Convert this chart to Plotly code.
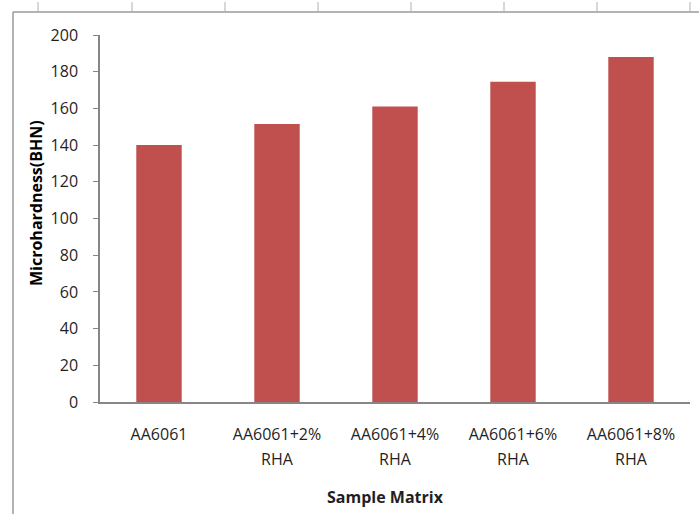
import plotly.graph_objects as go

# Microhardness of AA6061 matrix with rice husk ash (RHA) additions
samples_line1 = ["AA6061", "AA6061+2%", "AA6061+4%", "AA6061+6%", "AA6061+8%"]
samples_line2 = ["", "RHA", "RHA", "RHA", "RHA"]
hardness_bhn = [140, 151.5, 161, 174.5, 188]
y_ticks = [0, 20, 40, 60, 80, 100, 120, 140, 160, 180, 200]

W, H = 699, 514
L, R, T, B = 100, 9, 35, 112
PW, PH = W - L - R, H - T - B

def px_x(px):
    return (px - L) / PW

def px_y(py):
    return (H - B - py) / PH

positions = list(range(len(samples_line1)))
axis_grey = "#868686"
text_col = "#1f1f1f"
font_family = "Open Sans, Liberation Sans, sans-serif"

fig = go.Figure()
fig.add_trace(go.Bar(
    x=positions, y=hardness_bhn,
    marker=dict(color="#C0504D", line=dict(width=0)),
    width=0.385, hoverinfo="x+y",
))
# carrier trace for the second row of category labels
fig.add_trace(go.Scatter(
    x=positions, y=hardness_bhn, xaxis="x2", mode="none",
    hoverinfo="skip", showlegend=False,
))

fig.update_layout(
    width=W, height=H,
    margin=dict(l=L, r=R, t=T, b=B, pad=0),
    paper_bgcolor="white", plot_bgcolor="white",
    showlegend=False,
    font=dict(family=font_family, size=16, color=text_col),
    xaxis=dict(
        range=[-0.5, len(positions) - 0.5],
        tickvals=positions, ticktext=samples_line1,
        showgrid=False, zeroline=False,
        showline=True, linecolor=axis_grey, linewidth=1.5,
        ticks="", ticklabelstandoff=17,
        tickfont=dict(size=16, color=text_col),
        fixedrange=True,
    ),
    xaxis2=dict(
        overlaying="x", anchor="y", side="bottom",
        range=[-0.5, len(positions) - 0.5],
        tickvals=positions, ticktext=samples_line2,
        showgrid=False, zeroline=False, showline=False,
        ticks="", ticklabelstandoff=46,
        tickfont=dict(size=16, color=text_col),
        fixedrange=True,
    ),
    yaxis=dict(
        range=[0, 200], tickvals=y_ticks,
        showgrid=False, zeroline=False,
        showline=True, linecolor=axis_grey, linewidth=1.5,
        ticks="outside", ticklen=5, tickcolor=axis_grey, tickwidth=1.2,
        ticklabelstandoff=12,
        tickfont=dict(size=16, color=text_col),
        fixedrange=True,
    ),
    bargap=0.6,
)

# axis titles
fig.add_annotation(
    text="<b>Microhardness(BHN)</b>", textangle=-90,
    x=px_x(36), y=px_y(203), xref="paper", yref="paper",
    showarrow=False, font=dict(size=16, color="black"),
    xanchor="center", yanchor="middle",
)
fig.add_annotation(
    text="<b>Sample Matrix</b>",
    x=px_x(385), y=px_y(497), xref="paper", yref="paper",
    showarrow=False, font=dict(size=16, color=text_col),
    xanchor="center", yanchor="middle",
)

# chart-area frame and sheet column ticks along the top
frame = "#9a9a9a"
fig.add_shape(type="line", xref="paper", yref="paper",
              x0=px_x(13), x1=px_x(W + 5), y0=px_y(12), y1=px_y(12),
              line=dict(color=frame, width=1.5))
fig.add_shape(type="line", xref="paper", yref="paper",
              x0=px_x(13), x1=px_x(13), y0=px_y(12), y1=px_y(H + 5),
              line=dict(color=frame, width=1.5))
for cx in [38, 132, 225, 318, 411, 504, 597, 690]:
    fig.add_shape(type="line", xref="paper", yref="paper",
                  x0=px_x(cx), x1=px_x(cx), y0=px_y(2), y1=px_y(12),
                  line=dict(color="#b0b0b0", width=1))

fig.write_html("out.html")
